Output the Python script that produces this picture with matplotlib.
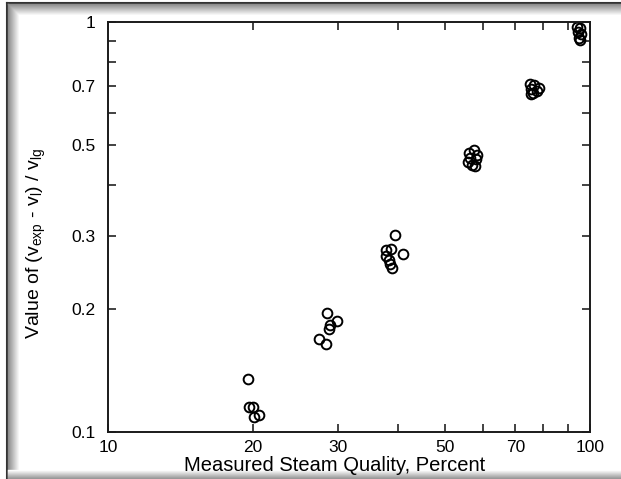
import matplotlib
matplotlib.use("Agg")
import matplotlib.pyplot as plt
from matplotlib.lines import Line2D
from matplotlib.ticker import FixedLocator, NullFormatter, FixedFormatter

plt.rcParams['font.family'] = ['Liberation Sans', 'DejaVu Sans']
plt.rcParams['mathtext.default'] = 'regular'

# steam quality (%) and (v_exp - v_l)/v_lg
quality_20 = [19.5, 19.6, 20.0, 20.1, 20.6]
ratio_20 = [0.135, 0.115, 0.115, 0.109, 0.110]

quality_28 = [28.5, 29.8, 28.9, 28.8, 27.4, 28.3]
ratio_28 = [0.195, 0.186, 0.182, 0.178, 0.169, 0.164]

quality_39 = [39.4, 37.7, 38.6, 40.9, 37.8, 38.2, 38.4, 38.9]
ratio_39 = [0.302, 0.278, 0.279, 0.272, 0.268, 0.263, 0.257, 0.251]

quality_57 = [57.5, 56.0, 58.3, 56.5, 58.0, 55.8, 57.0, 57.8]
ratio_57 = [0.488, 0.478, 0.474, 0.465, 0.462, 0.455, 0.447, 0.445]

quality_76 = [75.0, 76.5, 78.5, 75.5, 77.5, 76.0, 75.5]
ratio_76 = [0.705, 0.702, 0.690, 0.685, 0.680, 0.672, 0.668]

quality_95 = [94.0, 95.5, 94.5, 96.0, 95.0, 95.5]
ratio_95 = [0.975, 0.965, 0.945, 0.935, 0.915, 0.905]

x_major = [10, 20, 30, 50, 70, 100]
x_minor = [40, 60, 80, 90]
y_major = [0.1, 0.2, 0.3, 0.5, 0.7, 1]
y_labels = ["0.1", "0.2", "0.3", "0.5", "0.7", "1"]
y_minor = [0.4, 0.6, 0.8, 0.9]

fig = plt.figure(figsize=(6.21, 4.79), dpi=100)
ax = fig.add_axes([108/621, 47/479, 482/621, 410/479])

groups = [(quality_20, ratio_20), (quality_28, ratio_28), (quality_39, ratio_39),
          (quality_57, ratio_57), (quality_76, ratio_76), (quality_95, ratio_95)]
for q, r in groups:
    ax.plot(q, r, 'o', ms=7, mfc='none', mec='black', mew=1.4, ls='none')

ax.set_xscale('log')
ax.set_yscale('log')
ax.set_xlim(10, 100)
ax.set_ylim(0.1, 1)

ax.xaxis.set_major_locator(FixedLocator(x_major))
ax.xaxis.set_major_formatter(FixedFormatter([str(v) for v in x_major]))
ax.xaxis.set_minor_locator(FixedLocator(x_minor))
ax.xaxis.set_minor_formatter(NullFormatter())
ax.yaxis.set_major_locator(FixedLocator(y_major))
ax.yaxis.set_major_formatter(FixedFormatter(y_labels))
ax.yaxis.set_minor_locator(FixedLocator(y_minor))
ax.yaxis.set_minor_formatter(NullFormatter())

ax.tick_params(which='both', direction='in', top=True, right=True,
               length=6, width=1.2, color='#222222', labelsize=12.5)
ax.tick_params(axis='x', pad=6)
ax.tick_params(axis='y', pad=9)
for s in ax.spines.values():
    s.set_linewidth(1.4)
    s.set_color('#1a1a1a')

ax.set_xlabel("Measured Steam Quality, Percent", fontsize=14.5)
ax.xaxis.set_label_coords(0.471, -0.058)
ax.set_ylabel(r"Value of (v$_{exp}$ - v$_{l}$) / v$_{lg}$", fontsize=14)
ax.yaxis.set_label_coords(-0.125, 0.46)

# scanned-page frame with inner shadow
W, H = 621, 479
kw = dict(transform=fig.transFigure, zorder=-1)
fig.add_artist(Line2D([7/W, 7/W], [0, 1 - 3/H], color='#333333', lw=1.5, **kw))
fig.add_artist(Line2D([7/W, 1], [1 - 3/H, 1 - 3/H], color='#333333', lw=1.5, **kw))
for i in range(12):
    g = 0.55 + 0.45 * i / 11
    c = (g, g, g)
    fig.add_artist(Line2D([(8 + i)/W, (8 + i)/W], [0, 1 - (4 + i)/H], color=c, lw=1, **kw))
    fig.add_artist(Line2D([(8 + i)/W, 1], [1 - (4 + i)/H, 1 - (4 + i)/H], color=c, lw=1, **kw))
for i in range(9):
    gb = 1.0 - 0.4 * i / 8
    fig.add_artist(Line2D([8/W, 1], [(9 - i)/H, (9 - i)/H], color=(gb, gb, gb), lw=1, **kw))

fig.savefig("out.png", dpi=100)
